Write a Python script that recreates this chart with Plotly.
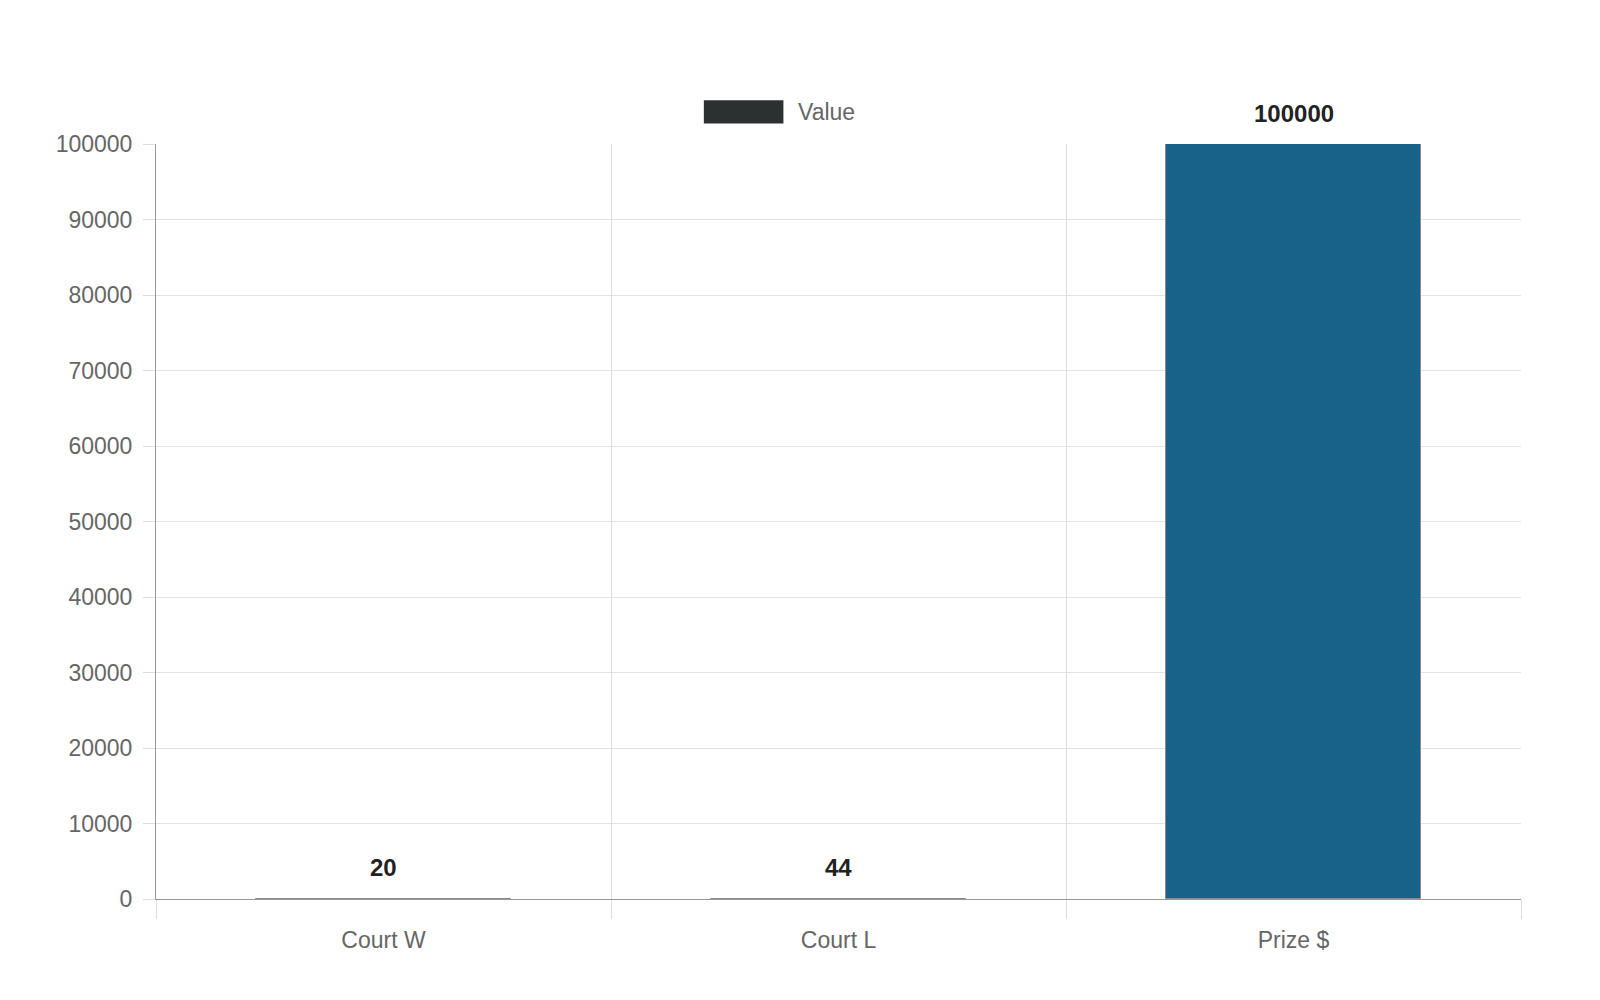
import plotly.graph_objects as go

categories = ["Court W", "Court L", "Prize $"]
values = [20, 44, 100000]
bar_color = "#176289"

L, R, T, B = 148, 87, 136, 109
PW, PH = 1600 - L - R, 1000 - T - B

fig = go.Figure()
fig.add_trace(go.Bar(
    x=list(range(len(categories))), y=values, width=0.56,
    marker=dict(color=bar_color, line=dict(color="#8a8a8a", width=1)),
    showlegend=False,
))
# invisible trace on the overlay axis so the boundary grid shows
fig.add_trace(go.Scatter(x=[-0.5, 2.5], y=[0, 0], xaxis="x2", mode="lines",
                         line=dict(width=0), hoverinfo="skip", showlegend=False))

for i, v in enumerate(values):
    fig.add_annotation(x=i, y=v, text=f"<b>{v}</b>", showarrow=False, yshift=31,
                       font=dict(size=24, color="#222", family="Liberation Sans"))

fig.update_layout(
    width=1600, height=1000,
    margin=dict(l=L, r=R, t=T, b=B),
    plot_bgcolor="white", paper_bgcolor="white",
    font=dict(family="Liberation Sans", size=23, color="#666"),
    xaxis=dict(range=[-0.5, 2.5], tickvals=list(range(len(categories))), ticktext=categories,
               showgrid=False, zeroline=False, ticks="", ticklabelstandoff=20,
               showline=True, linecolor="#999", linewidth=1),
    xaxis2=dict(range=[-0.5, 2.5], overlaying="x", tickvals=[-0.5, 0.5, 1.5, 2.5],
                showticklabels=False, showgrid=True, gridcolor="#ddd",
                ticks="outside", ticklen=19, tickcolor="#ddd", side="bottom",
                zeroline=False),
    yaxis=dict(range=[0, 100000], dtick=10000, showgrid=True, gridcolor="#e3e3e3",
               zeroline=False, showline=True, linecolor="#999", ticks="outside",
               ticklen=12, tickcolor="#ddd", tickformat="d", ticklabelstandoff=6),
    bargap=0,
)
# legend drawn as in the source
fig.add_shape(type="rect", xref="paper", yref="paper",
              x0=(689 - 152) / 1338, x1=(767 - 152) / 1338,
              y0=1 + (141 - 121) / 740, y1=1 + (141 - 98) / 740,
              fillcolor="#2b3030", line=dict(width=0))
fig.add_annotation(text="Value", xref="paper", yref="paper",
                   x=(779 - 152) / 1338, y=1 + (141 - 110) / 740, xanchor="left",
                   yanchor="middle", showarrow=False, font=dict(size=23, color="#666"))

fig.write_html("out.html")
